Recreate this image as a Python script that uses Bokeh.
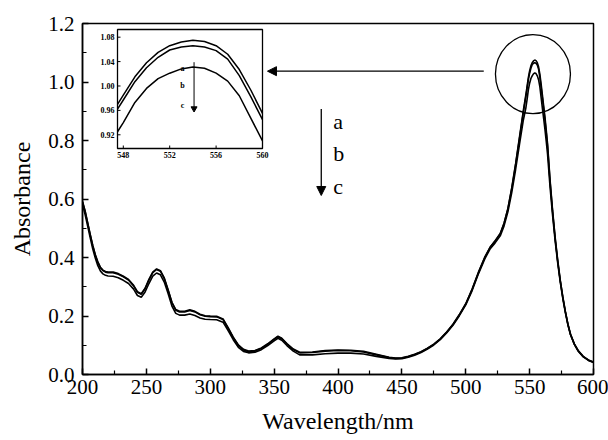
import numpy as np
from bokeh.plotting import figure
from bokeh.models import Range1d, Arrow, NormalHead, FixedTicker, PrintfTickFormatter
from bokeh.core.properties import value
from bokeh.embed import file_html
from bokeh.resources import INLINE

# ---------------- data ----------------
wavelength = [200, 202, 204, 206, 208, 210, 212, 214, 216, 218, 220, 224, 228, 232, 236, 240, 243, 246, 249,
              252, 255, 258, 261, 264, 267, 270, 273, 276, 280, 284, 288, 292, 296, 300, 305, 310, 314, 318,
              322, 326, 330, 335, 340, 345, 350, 353, 356, 360, 365, 370, 380, 390, 400, 410, 420, 430, 440,
              445, 450, 455, 460, 465, 470, 475, 480, 485, 490, 495, 500, 505, 510, 515, 519, 523, 527, 530,
              533, 536, 539, 542, 545, 547, 547.5, 548, 549, 550, 551, 552, 553, 554, 555, 556, 557, 558, 559,
              560, 561, 562, 563, 564, 566, 568, 570, 572, 574, 576, 578, 580, 582, 585, 588, 592, 596, 600]

abs_a = [0.592, 0.560, 0.520, 0.480, 0.442, 0.410, 0.385, 0.367, 0.357, 0.352, 0.350, 0.350, 0.345, 0.336,
         0.325, 0.305, 0.283, 0.276, 0.295, 0.325, 0.350, 0.361, 0.355, 0.330, 0.290, 0.247, 0.222, 0.216,
         0.216, 0.221, 0.216, 0.206, 0.201, 0.200, 0.199, 0.190, 0.160, 0.128, 0.101, 0.086, 0.080, 0.082,
         0.091, 0.105, 0.122, 0.131, 0.124, 0.106, 0.087, 0.076, 0.077, 0.082, 0.084, 0.083, 0.079, 0.069,
         0.059, 0.056, 0.057, 0.062, 0.069, 0.078, 0.090, 0.104, 0.122, 0.145, 0.172, 0.205, 0.242, 0.292,
         0.350, 0.402, 0.435, 0.457, 0.482, 0.518, 0.568, 0.638, 0.720, 0.810, 0.900, 0.955, 0.970, 0.985,
         1.015, 1.038, 1.055, 1.066, 1.072, 1.075, 1.073, 1.066, 1.052, 1.027, 0.993, 0.955, 0.918, 0.880,
         0.836, 0.790, 0.665, 0.560, 0.468, 0.390, 0.322, 0.265, 0.215, 0.172, 0.138, 0.105, 0.082, 0.062,
         0.050, 0.043]

abs_b = [0.590, 0.558, 0.518, 0.478, 0.440, 0.408, 0.383, 0.365, 0.355, 0.350, 0.348, 0.348, 0.343, 0.334,
         0.323, 0.303, 0.281, 0.274, 0.293, 0.323, 0.348, 0.359, 0.353, 0.328, 0.288, 0.245, 0.220, 0.214,
         0.214, 0.219, 0.214, 0.204, 0.199, 0.198, 0.197, 0.188, 0.158, 0.126, 0.099, 0.084, 0.078, 0.080,
         0.089, 0.103, 0.120, 0.129, 0.122, 0.104, 0.085, 0.074, 0.075, 0.080, 0.082, 0.081, 0.077, 0.067,
         0.058, 0.055, 0.056, 0.061, 0.068, 0.077, 0.089, 0.103, 0.121, 0.144, 0.171, 0.204, 0.241, 0.291,
         0.349, 0.401, 0.434, 0.456, 0.481, 0.516, 0.566, 0.635, 0.716, 0.805, 0.894, 0.948, 0.962, 0.977,
         1.007, 1.030, 1.047, 1.059, 1.064, 1.066, 1.064, 1.058, 1.044, 1.017, 0.982, 0.945, 0.908, 0.870,
         0.827, 0.782, 0.659, 0.555, 0.464, 0.387, 0.320, 0.263, 0.214, 0.171, 0.137, 0.104, 0.081, 0.061,
         0.049, 0.042]

abs_c = [0.580, 0.548, 0.508, 0.468, 0.430, 0.398, 0.372, 0.354, 0.344, 0.339, 0.337, 0.336, 0.331, 0.322,
         0.311, 0.292, 0.270, 0.264, 0.282, 0.311, 0.336, 0.347, 0.341, 0.316, 0.277, 0.234, 0.209, 0.203,
         0.203, 0.207, 0.202, 0.193, 0.189, 0.188, 0.187, 0.179, 0.150, 0.119, 0.093, 0.079, 0.074, 0.076,
         0.085, 0.099, 0.115, 0.124, 0.117, 0.099, 0.080, 0.067, 0.067, 0.071, 0.073, 0.073, 0.070, 0.062,
         0.055, 0.053, 0.054, 0.059, 0.066, 0.075, 0.087, 0.101, 0.119, 0.142, 0.168, 0.201, 0.238, 0.287,
         0.345, 0.396, 0.429, 0.450, 0.474, 0.508, 0.556, 0.622, 0.700, 0.785, 0.868, 0.910, 0.925, 0.940,
         0.973, 0.996, 1.012, 1.021, 1.028, 1.031, 1.029, 1.021, 1.008, 0.984, 0.947, 0.910, 0.875, 0.838,
         0.798, 0.755, 0.640, 0.543, 0.456, 0.381, 0.315, 0.259, 0.211, 0.169, 0.136, 0.103, 0.080, 0.060,
         0.048, 0.041]

curve_labels = ["a", "b", "c"]
x_ticks = [200, 250, 300, 350, 400, 450, 500, 550, 600]
x_minor = [225, 275, 325, 375, 425, 475, 525, 575]
y_ticks = [0.0, 0.2, 0.4, 0.6, 0.8, 1.0, 1.2]
y_minor = [0.1, 0.3, 0.5, 0.7, 0.9, 1.1]
inset_xticks = [548, 552, 556, 560]
inset_xlabels = ["548", "552", "556", "560"]
inset_yticks = [0.92, 0.96, 1.00, 1.04, 1.08]
inset_ylabels = ["0.92", "0.96", "1.00", "1.04", "1.08"]

# ---------------- figure ----------------
FONT = "Liberation Serif"

p = figure(width=608, height=440, x_range=Range1d(200, 600), y_range=Range1d(0, 1.2),
           output_backend="svg", toolbar_location=None,
           min_border_left=82, min_border_right=15, min_border_top=23, min_border_bottom=66)

p.xgrid.visible = False
p.ygrid.visible = False
p.outline_line_color = "black"
p.outline_line_width = 1.5

p.xaxis.ticker = FixedTicker(ticks=x_ticks, minor_ticks=x_minor)
p.yaxis.ticker = FixedTicker(ticks=y_ticks, minor_ticks=y_minor)
p.yaxis.formatter = PrintfTickFormatter(format="%.1f")

for ax in (p.xaxis[0], p.yaxis[0]):
    ax.axis_line_width = 1.5
    ax.axis_line_color = "black"
    ax.major_tick_in = 6
    ax.major_tick_out = 0
    ax.minor_tick_in = 4
    ax.minor_tick_out = 0
    ax.major_tick_line_width = 1.5
    ax.minor_tick_line_width = 1.2
    ax.major_tick_line_color = "black"
    ax.minor_tick_line_color = "black"
    ax.major_label_text_font = FONT
    ax.major_label_text_font_size = "21px"
    ax.major_label_text_color = "black"
    ax.axis_label_text_font = FONT
    ax.axis_label_text_font_size = "24px"
    ax.axis_label_text_font_style = "normal"
    ax.axis_label_text_color = "black"

p.xaxis.axis_label = "Wavelength/nm"
p.yaxis.axis_label = "Absorbance"
p.xaxis.major_label_standoff = 5
p.xaxis.axis_label_standoff = 11
p.yaxis.major_label_standoff = 8
p.yaxis.axis_label_standoff = 10

for ys in (abs_a, abs_b, abs_c):
    p.line(wavelength, ys, line_color="black", line_width=1.6)

# circle around the peak
p.ellipse(x=[552.6], y=[1.027], width=75, height=79, width_units="screen", height_units="screen",
          fill_color=None, line_color="black", line_width=1.3)

# horizontal arrow to the inset
p.add_layout(Arrow(end=NormalHead(size=9, fill_color="black", line_color="black"),
                   x_start=514.1, y_start=1.037, x_end=344.8, y_end=1.037,
                   line_color="black", line_width=1.3))

# vertical a->c arrow and labels
p.add_layout(Arrow(end=NormalHead(size=9, fill_color="black", line_color="black"),
                   x_start=386.9, y_start=0.908, x_end=386.9, y_end=0.612,
                   line_color="black", line_width=1.3))
p.text(x=[396.2] * 3, y=[0.865, 0.7545, 0.6438], text=curve_labels,
       text_font=value(FONT), text_font_size="22px", text_color="black",
       text_align="left", text_baseline="alphabetic")

# ---------------- inset ----------------
xs = Range1d(547.5, 560)
ys_ = Range1d(0.8975, 1.0926)
sub = p.subplot(x_source=xs, y_source=ys_,
                x_target=Range1d(227.4, 340.9), y_target=Range1d(0.7726, 1.1795))

sub.quad(left=[xs.start], right=[xs.end], bottom=[ys_.start], top=[ys_.end],
         fill_color="white", line_color="black", line_width=1.3)

wl = np.array(wavelength)
mask = (wl >= xs.start) & (wl <= xs.end)
for ys in (abs_a, abs_b, abs_c):
    sub.line(wl[mask], np.array(ys)[mask], line_color="black", line_width=1.5)

sub.ray(x=[xs.start] * len(inset_yticks), y=inset_yticks, length=3, length_units="screen",
        angle=0, line_color="black", line_width=1)
sub.ray(x=inset_xticks, y=[ys_.start] * len(inset_xticks), length=3, length_units="screen",
        angle=np.pi / 2, line_color="black", line_width=1)
sub.text(x=[xs.start] * len(inset_yticks), y=inset_yticks, text=inset_ylabels, x_offset=-3,
         text_font=value(FONT), text_font_size="8px", text_font_style="bold", text_color="black",
         text_align="right", text_baseline="middle")
sub.text(x=inset_xticks, y=[ys_.start] * len(inset_xticks), text=inset_xlabels, y_offset=3,
         text_font=value(FONT), text_font_size="8px", text_font_style="bold", text_color="black",
         text_align="center", text_baseline="top")

sub.text(x=[553.1] * 3, y=[1.029, 1.001, 0.968], text=curve_labels,
         text_font=value(FONT), text_font_size="8px", text_font_style="bold", text_color="black",
         text_align="center", text_baseline="middle")
sub.segment(x0=[554.1], y0=[1.039], x1=[554.1], y1=[0.963], line_color="black", line_width=1)
sub.scatter(x=[554.1], y=[0.963], marker="triangle", angle=np.pi, size=6,
            fill_color="black", line_color="black")

open("out.html", "w").write(file_html(p, INLINE))
